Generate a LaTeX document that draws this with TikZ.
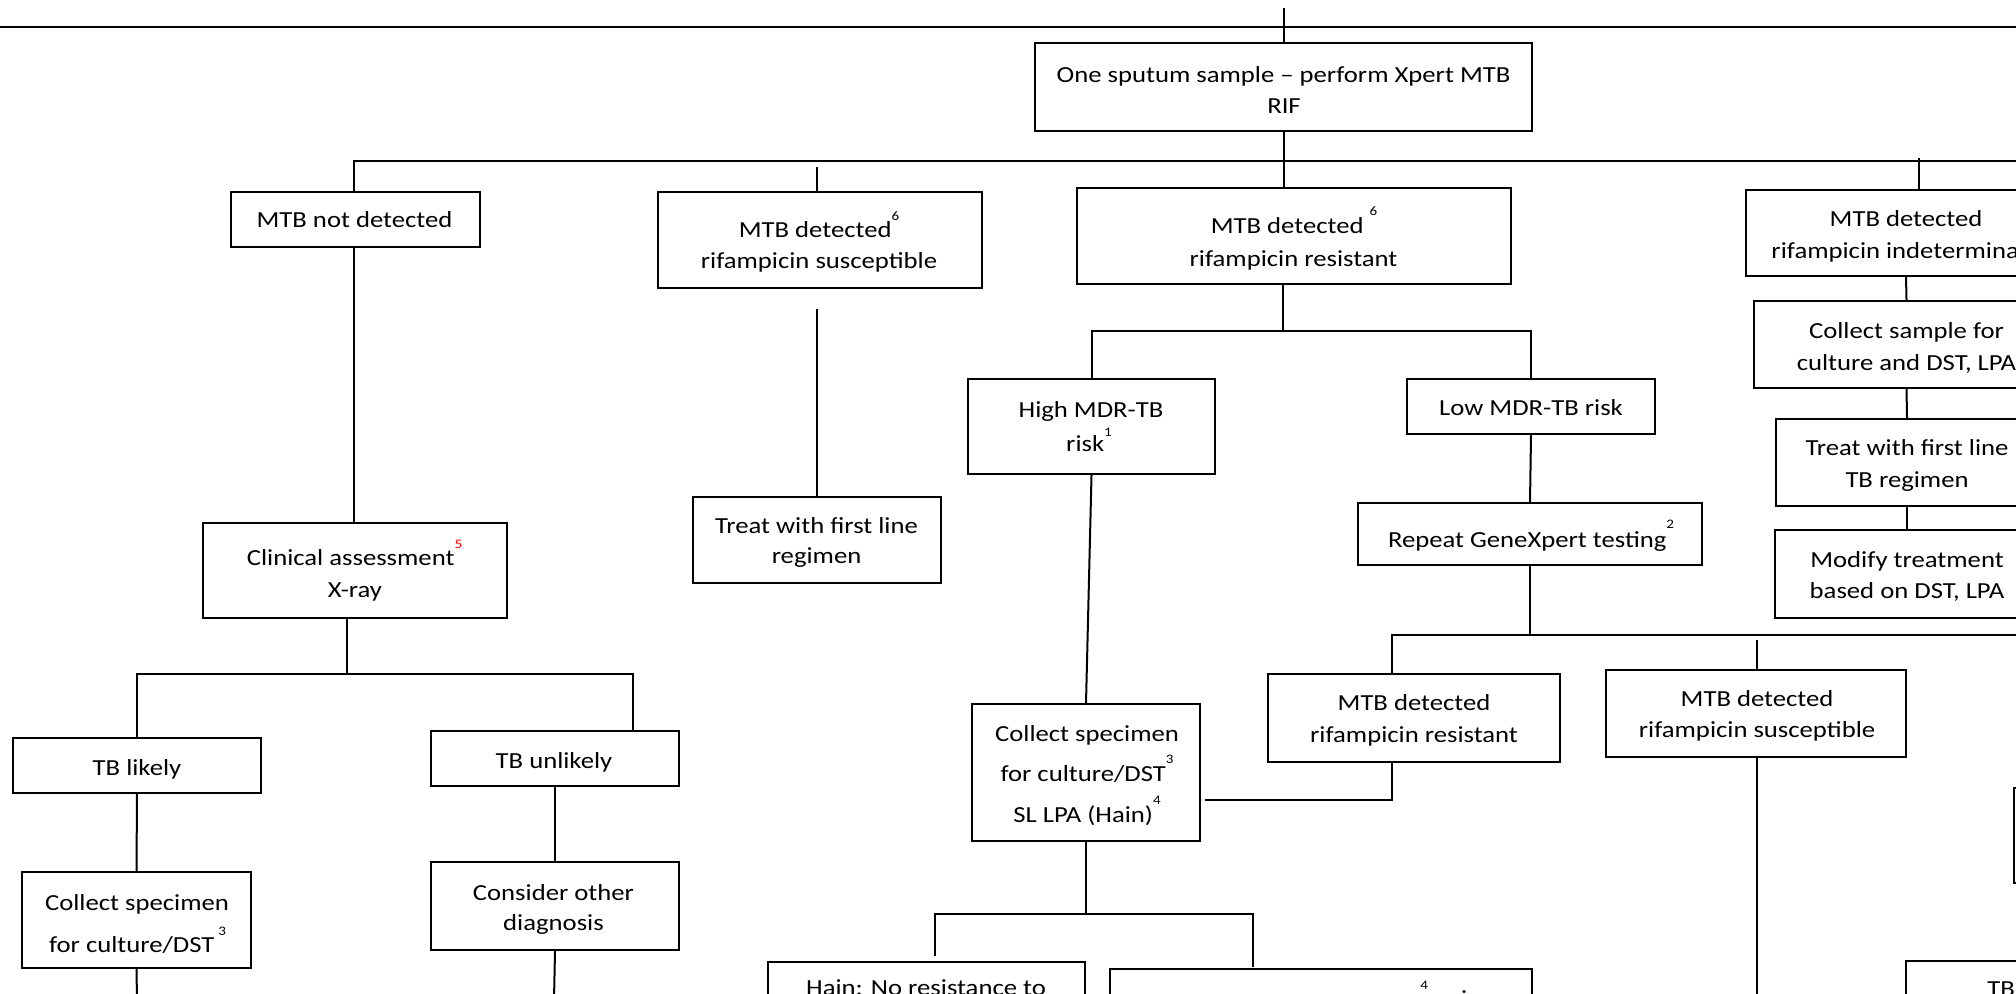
\documentclass[tikz,border=0pt]{standalone}
\usepackage{fontspec}
\setmainfont{Carlito}[FakeStretch=1.16]
\usepackage{xcolor}

\newcommand\txtsize{\fontsize{11.5}{14}\selectfont}
% raised footnote marks
\newcommand\sups[2][8.5pt]{\raisebox{#1}{\fontsize{6.5}{7}\selectfont #2}}
% \flowbox{name}{x1}{y1}{x2}{y2}: empty framed box between two corners
\newcommand\flowbox[5]{\node[box, minimum width={(#4-#2)/2}, minimum height={(#5-#3)/2}] (#1) at ({(#2+#4)/2},{(#3+#5)/2}) {};}

\tikzset{
  box/.style={draw, line width=1pt, inner sep=0pt},
  conn/.style={line width=1pt},
  ln/.style={anchor=base, inner sep=0pt, font=\txtsize},
}

\begin{document}
\begin{tikzpicture}[x=0.5pt, y=-0.5pt]
\useasboundingbox (0,0) rectangle (2016,993);
\clip (0,0) rectangle (2016,993);

% ---------- boxes ----------
\flowbox{sputum}{1035}{43}{1532}{131}
\flowbox{notdet}{231}{192}{480}{247}
\flowbox{rsus}{658}{192}{982}{288}
\flowbox{rres}{1077}{188}{1511}{284}
\flowbox{rind}{1746}{190}{2066}{276}
\flowbox{colls}{1754}{301}{2059}{388}
\flowbox{treattb}{1776}{419}{2038}{506}
\flowbox{modify}{1775}{530}{2039}{618}
\flowbox{high}{968}{379}{1215}{474}
\flowbox{low}{1407}{379}{1655}{434}
\flowbox{repeat}{1358}{503}{1702}{565}
\flowbox{treatf}{693}{497}{941}{583}
\flowbox{clin}{203}{523}{507}{618}
\flowbox{tblikely}{13}{738}{261}{793}
\flowbox{tbunlikely}{431}{731}{679}{786}
\flowbox{colll}{22}{872}{251}{968}
\flowbox{consider}{431}{862}{679}{950}
\flowbox{collm}{972}{704}{1200}{841}
\flowbox{rres2}{1268}{674}{1560}{762}
\flowbox{rsus2}{1606}{670}{1906}{757}
\flowbox{hain}{768}{962}{1085}{1060}
\flowbox{hainres}{1110}{969}{1532}{1060}
\flowbox{tbnext}{1906}{961}{2100}{1060}
\flowbox{edgebox}{2014}{788}{2100}{883}

% ---------- texts ----------
\node[ln] (sputum-a) at (1283.5,82) {One sputum sample – perform Xpert MTB};
\node[ln] (sputum-b) at (1284,113) {RIF};
\node[ln] (notdet-a) at (354.5,227) {MTB not detected};
\node[ln] (rsus-a) at (819,237) {MTB detected\sups{6}};
\node[ln] (rsus-b) at (819,268) {rifampicin susceptible};
\node[ln] (rres-a) at (1294,233) {MTB detected \sups[9pt]{6}};
\node[ln] (rres-b) at (1293.5,266) {rifampicin resistant};
\node[ln] (rind-a) at (1906,226) {MTB detected};
\node[ln] (rind-b) at (1906,258) {rifampicin indeterminate};
\node[ln] (colls-a) at (1906.5,338) {Collect sample for};
\node[ln] (colls-b) at (1906.5,370) {culture and DST, LPA};
\node[ln] (treattb-a) at (1907,455) {Treat with first line};
\node[ln] (treattb-b) at (1907,487) {TB regimen};
\node[ln] (modify-a) at (1907,567) {Modify treatment};
\node[ln] (modify-b) at (1907,598) {based on DST, LPA};
\node[ln] (high-a) at (1091,417) {High MDR-TB};
\node[ln] (high-b) at (1089,451) {risk\sups[7.5pt]{1}};
\node[ln] (low-a) at (1531,415) {Low MDR-TB risk};
\node[ln] (repeat-a) at (1531,547) {Repeat GeneXpert testing\sups[9.5pt]{2}};
\node[ln] (treatf-a) at (816.5,533) {Treat with first line};
\node[ln] (treatf-b) at (816.5,563) {regimen};
\node[ln] (clin-a) at (354.5,565) {Clinical assessment\sups{\textcolor{red}{5}}};
\node[ln] (clin-b) at (355,597) {X-ray};
\node[ln] (tblikely-a) at (137,775) {TB likely};
\node[ln] (tbunlikely-a) at (554,768) {TB unlikely};
\node[ln] (colll-a) at (137,910) {Collect specimen};
\node[ln] (colll-b) at (137.5,952) {for culture/DST\,\sups{3}};
\node[ln] (consider-a) at (553.5,900) {Consider other};
\node[ln] (consider-b) at (553.5,930) {diagnosis};
\node[ln] (collm-a) at (1087,741) {Collect specimen};
\node[ln] (collm-b) at (1087,781) {for culture/DST\sups[9pt]{3}};
\node[ln] (collm-c) at (1087,822) {SL LPA (Hain)\sups[9pt]{4}};
\node[ln] (rres2-a) at (1414,710) {MTB detected};
\node[ln] (rres2-b) at (1414,742) {rifampicin resistant};
\node[ln] (rsus2-a) at (1757,706) {MTB detected};
\node[ln] (rsus2-b) at (1757,737) {rifampicin susceptible};
\node[ln] (hain-a) at (926,995) {Hain: No resistance to};
\node[ln, anchor=base west] (hainres-a) at (1420,1006) {\sups{4}\hspace{16.5pt}i};
\node[ln, anchor=base west] (tbnext-a) at (1987,996) {TB};

% ---------- connectors ----------
\coordinate (ruleL) at (0,27);
\coordinate (ruleR) at (2016,27);
\draw[line width=1.1pt] (ruleL) -- (ruleR);
\coordinate (topIn) at (1284,8);
\draw[conn] (topIn) -- (topIn |- sputum.north);

% first split
\coordinate (busL) at (354,161);
\coordinate (busR) at (2016,161);
\draw[conn] (sputum.south) -- (sputum.south |- rres.north);
\draw[conn] (busL |- notdet.north) -- (busL) -- (busR);
\coordinate (rsusIn) at (817,167);
\draw[conn] (rsusIn) -- (rsusIn |- rsus.north);
\coordinate (rindIn) at (1919,158);
\draw[conn] (rindIn) -- (rindIn |- rind.north);

% susceptible branch
\coordinate (rsusOut) at (817,309);
\draw[conn] (rsusOut) -- (rsusOut |- treatf.north);

% indeterminate branch
\draw[conn] (rind.south) -- (colls.north);
\draw[conn] (colls.south) -- (treattb.north);
\draw[conn] (treattb.south) -- (modify.north);

% not detected branch
\draw[conn] (busL |- notdet.south) -- (busL |- clin.north);
\coordinate (clinJ) at (347,674);
\coordinate (tbuIn) at (633,731);
\draw[conn] (clinJ |- clin.south) -- (clinJ);
\draw[conn] (clinJ) -| (tblikely.north);
\draw[conn] (clinJ) -| (tbuIn);
\draw[conn] (tblikely.south) -- (colll.north);
\coordinate (colllOut) at (137,1000);
\draw[conn] (colll.south) -- (colllOut);
\draw[conn] (tbunlikely.south) -- (consider.north);
\coordinate (considerOut) at (554,1000);
\draw[conn] (consider.south) -- (considerOut);

% resistant branch
\coordinate (rresJ) at (1283,331);
\draw[conn] (rresJ |- rres.south) -- (rresJ);
\draw[conn] (rresJ) -| (high.north);
\draw[conn] (rresJ) -| (low.north);
\draw[conn] (high.south) -- (collm.north);
\draw[conn] (low.south) -- (repeat.north);

% repeat testing
\coordinate (repJ) at (1530,635);
\coordinate (repR) at (2016,635);
\coordinate (rres2In) at (1392,674);
\coordinate (rsus2In) at (1757,640);
\draw[conn] (repeat.south) -- (repJ) -- (repR);
\draw[conn] (repJ) -| (rres2In);
\draw[conn] (rsus2In) -- (rsus2In |- rsus2.north);
\coordinate (rsus2Out) at (1757,1000);
\draw[conn] (rsus2In |- rsus2.south) -- (rsus2Out);
\coordinate (rres2Out) at (1392,762);
\coordinate (collmJoin) at (1205,800);
\draw[conn] (rres2Out) |- (collmJoin);

% line probe assay results
\coordinate (collmJ) at (1086,914);
\coordinate (hainIn) at (935,956);
\coordinate (hainresIn) at (1253,967);
\draw[conn] (collm.south) -- (collmJ);
\draw[conn] (collmJ) -| (hainIn);
\draw[conn] (collmJ) -| (hainresIn);
\end{tikzpicture}
\end{document}
